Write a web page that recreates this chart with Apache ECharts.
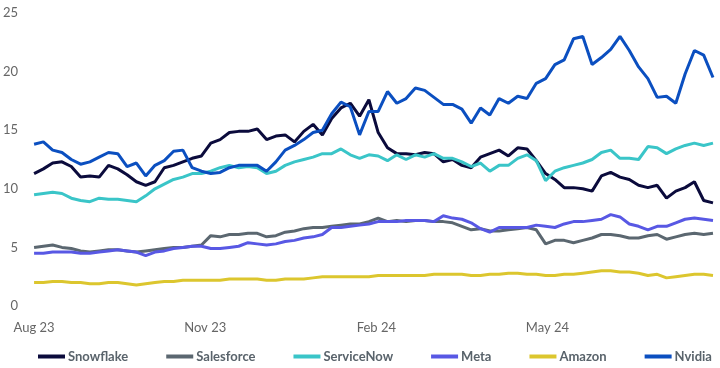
<!DOCTYPE html>
<html>
<head>
<meta charset="utf-8">
<script src="https://cdn.jsdelivr.net/npm/echarts@6/dist/echarts.min.js"></script>
<style>
    html, body { margin: 0; padding: 0; background: #fff; }
    #chart { width: 720px; height: 368px; }
</style>
</head>
<body>
<div id="chart"></div>
<script>
// days since 1 Aug 2023, one point every 5 days
var days = [0, 5, 10, 15, 20, 25, 30, 35, 40, 45, 50, 55, 60, 65, 70, 75, 80, 85, 90, 95,
    100, 105, 110, 115, 120, 125, 130, 135, 140, 145, 150, 155, 160, 165, 170, 175, 180, 185, 190, 195,
    200, 205, 210, 215, 220, 225, 230, 235, 240, 245, 250, 255, 260, 265, 270, 275, 280, 285, 290, 295,
    300, 305, 310, 315, 320, 325, 330, 335, 340, 345, 350, 355, 360, 365];

// tick positions on the day scale and their labels
var tickDays = [0, 92, 184, 276];
var tickLabels = ['Aug 23', 'Nov 23', 'Feb 24', 'May 24'];

var snowflake = [11.3, 11.7, 12.2, 12.3, 11.9, 11.0, 11.1, 11.0, 12.0, 11.7,
    11.2, 10.6, 10.3, 10.6, 11.8, 12.0, 12.3, 12.6, 12.8, 13.9,
    14.2, 14.8, 14.9, 14.9, 15.1, 14.2, 14.5, 14.6, 14.0, 14.9,
    15.5, 14.6, 16.0, 16.9, 17.3, 16.2, 17.6, 14.8, 13.5, 13.0,
    13.0, 12.9, 13.1, 13.0, 12.3, 12.5, 12.0, 11.8, 12.7, 13.0,
    13.3, 12.8, 13.5, 13.4, 12.4, 11.3, 10.8, 10.1, 10.1, 10.0,
    9.8, 11.1, 11.4, 11.0, 10.8, 10.3, 10.1, 10.3, 9.2, 9.8,
    10.1, 10.6, 9.0, 8.8];

var salesforce = [5.0, 5.1, 5.2, 5.0, 4.9, 4.7, 4.6, 4.7, 4.8, 4.8,
    4.7, 4.6, 4.7, 4.8, 4.9, 5.0, 5.0, 5.1, 5.2, 6.0,
    5.9, 6.1, 6.1, 6.2, 6.2, 5.9, 6.0, 6.3, 6.4, 6.6,
    6.7, 6.7, 6.8, 6.9, 7.0, 7.0, 7.2, 7.5, 7.2, 7.3,
    7.2, 7.3, 7.3, 7.2, 7.2, 7.1, 6.8, 6.5, 6.6, 6.4,
    6.4, 6.5, 6.6, 6.7, 6.5, 5.3, 5.6, 5.6, 5.4, 5.6,
    5.8, 6.1, 6.1, 6.0, 5.8, 5.8, 6.0, 6.1, 5.7, 5.9,
    6.1, 6.2, 6.1, 6.2];

var serviceNow = [9.5, 9.6, 9.7, 9.6, 9.2, 9.0, 8.9, 9.2, 9.1, 9.1,
    9.0, 8.9, 9.4, 10.0, 10.4, 10.8, 11.0, 11.3, 11.3, 11.5,
    11.8, 12.0, 11.8, 11.9, 11.8, 11.3, 11.5, 12.0, 12.3, 12.5,
    12.7, 13.0, 13.0, 13.4, 12.9, 12.6, 12.9, 12.8, 12.4, 12.9,
    12.5, 12.9, 12.7, 13.0, 12.6, 12.6, 12.3, 11.9, 12.2, 11.5,
    12.0, 12.0, 12.6, 12.9, 12.4, 10.7, 11.5, 11.8, 12.0, 12.2,
    12.5, 13.1, 13.3, 12.6, 12.6, 12.5, 13.6, 13.5, 13.0, 13.4,
    13.7, 13.9, 13.7, 13.9];

var meta = [4.5, 4.5, 4.6, 4.6, 4.6, 4.5, 4.5, 4.6, 4.7, 4.8,
    4.7, 4.6, 4.3, 4.6, 4.7, 4.9, 5.0, 5.1, 5.1, 4.9,
    4.9, 5.0, 5.1, 5.4, 5.3, 5.2, 5.3, 5.5, 5.6, 5.8,
    5.9, 6.1, 6.7, 6.7, 6.8, 6.9, 7.0, 7.2, 7.2, 7.2,
    7.3, 7.3, 7.3, 7.2, 7.7, 7.5, 7.4, 7.1, 6.6, 6.3,
    6.7, 6.7, 6.7, 6.7, 6.9, 6.8, 6.7, 7.0, 7.2, 7.2,
    7.3, 7.4, 7.8, 7.6, 7.0, 6.8, 6.5, 6.8, 6.8, 7.1,
    7.4, 7.5, 7.4, 7.3];

var amazon = [2.0, 2.0, 2.1, 2.1, 2.0, 2.0, 1.9, 1.9, 2.0, 2.0,
    1.9, 1.8, 1.9, 2.0, 2.1, 2.1, 2.2, 2.2, 2.2, 2.2,
    2.2, 2.3, 2.3, 2.3, 2.3, 2.2, 2.2, 2.3, 2.3, 2.3,
    2.4, 2.5, 2.5, 2.5, 2.5, 2.5, 2.5, 2.6, 2.6, 2.6,
    2.6, 2.6, 2.6, 2.7, 2.7, 2.7, 2.7, 2.6, 2.6, 2.7,
    2.7, 2.8, 2.8, 2.7, 2.7, 2.6, 2.6, 2.7, 2.7, 2.8,
    2.9, 3.0, 3.0, 2.9, 2.9, 2.8, 2.6, 2.7, 2.4, 2.5,
    2.6, 2.7, 2.7, 2.6];

var nvidia = [13.8, 14.0, 13.3, 13.1, 12.5, 12.1, 12.3, 12.7, 13.1, 13.0,
    11.9, 12.2, 11.1, 12.0, 12.4, 13.2, 13.3, 11.8, 11.5, 11.3,
    11.4, 11.8, 12.0, 12.0, 12.0, 11.5, 12.3, 13.3, 13.7, 14.2,
    14.8, 15.0, 16.4, 17.4, 17.0, 14.6, 16.6, 16.6, 18.3, 17.3,
    17.7, 18.6, 18.4, 17.8, 17.2, 17.2, 16.8, 15.6, 16.9, 16.3,
    17.7, 17.3, 17.9, 17.7, 19.0, 19.4, 20.6, 21.0, 22.8, 23.0,
    20.6, 21.2, 21.9, 23.0, 21.8, 20.4, 19.4, 17.8, 17.9, 17.3,
    19.8, 21.8, 21.4, 19.5];

var names = ['Snowflake', 'Salesforce', 'ServiceNow', 'Meta', 'Amazon', 'Nvidia'];
var values = [snowflake, salesforce, serviceNow, meta, amazon, nvidia];
var colors = ['#0b0b3c', '#5b6770', '#3ac5c8', '#5858e4', '#dcc62e', '#0b4fc0'];

function pairs(vals) {
    return days.map(function (d, i) { return [d, vals[i]]; });
}

var chart = echarts.init(document.getElementById('chart'));

var option = {
    animation: false,
    backgroundColor: '#fff',
    color: colors,
    textStyle: { fontFamily: 'Lato, sans-serif' },
    grid: { left: 30, right: 7, top: 13, bottom: 62 },
    legend: {
        bottom: 0,
        left: 33,
        icon: 'rect',
        itemWidth: 27,
        itemHeight: 4,
        itemGap: 38,
        textStyle: {
            color: '#59636b',
            fontSize: 13,
            fontWeight: 'bold',
            padding: [0, 0, 0, -2]
        },
        data: names
    },
    xAxis: {
        type: 'value',
        min: 0,
        max: 365,
        interval: 92,
        axisLine: { show: false },
        axisTick: { show: false },
        splitLine: { show: false },
        axisLabel: {
            color: '#666',
            fontSize: 13,
            margin: 15,
            showMaxLabel: false,
            formatter: function (v) {
                var i = tickDays.indexOf(v);
                return i < 0 ? '' : tickLabels[i];
            }
        }
    },
    yAxis: {
        type: 'value',
        min: 0,
        max: 25,
        interval: 5,
        axisLine: { show: false },
        axisTick: { show: false },
        splitLine: { show: false },
        axisLabel: { color: '#666', fontSize: 13, margin: 16 }
    },
    series: names.map(function (n, i) {
        return {
            name: n,
            type: 'line',
            data: pairs(values[i]),
            showSymbol: false,
            lineStyle: { width: 3 }
        };
    })
};

chart.setOption(option);
</script>
</body>
</html>
